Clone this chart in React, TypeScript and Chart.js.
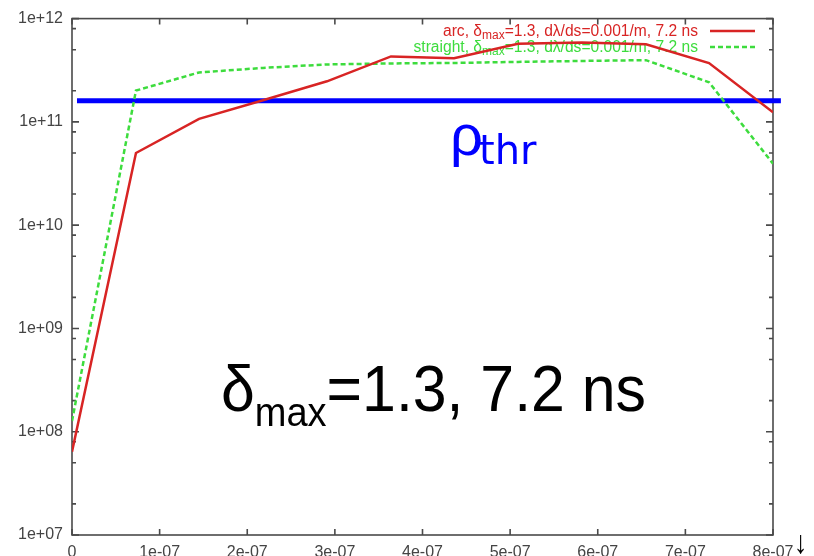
import React, { useEffect, useRef } from "react";
import { Chart, registerables } from "chart.js";

Chart.register(...registerables);

const timeValues = [0, 7.3e-8, 1.45e-7, 2.18e-7, 2.91e-7, 3.64e-7, 4.36e-7, 5.09e-7, 5.82e-7, 6.55e-7, 7.27e-7, 8.0e-7];
const arcValues = [6.4e7, 5.0e10, 1.07e11, 1.62e11, 2.47e11, 4.3e11, 4.14e11, 5.7e11, 5.87e11, 5.65e11, 3.71e11, 1.24e11];
const straightValues = [1.27e8, 2.01e11, 3.01e11, 3.33e11, 3.6e11, 3.68e11, 3.72e11, 3.81e11, 3.89e11, 3.96e11, 2.42e11, 3.94e10];
const thresholdX = [5.7e-9, 8.09e-7];
const thresholdValue = 1.6e11;

const xTickValues = [0, 1e-7, 2e-7, 3e-7, 4e-7, 5e-7, 6e-7, 7e-7, 8e-7];
const xTickLabels = ["0", "1e-07", "2e-07", "3e-07", "4e-07", "5e-07", "6e-07", "7e-07", "8e-07"];
const yTickValues = [1e7, 1e8, 1e9, 1e10, 1e11, 1e12];
const yTickLabels = ["1e+07", "1e+08", "1e+09", "1e+10", "1e+11", "1e+12"];
const yMinorFactors = [2, 5, 8];

const FONT = "'Liberation Sans', Arial, sans-serif";
const WIDE = "'DejaVu Sans', sans-serif";
const RED = "#d82424";
const GREEN = "#3ddc3d";
const BLUE = "#0000ff";

type Part = { text: string; size: number; dy: number; family?: string; weight?: string };

function drawRich(
  ctx: CanvasRenderingContext2D,
  parts: Part[],
  x: number,
  y: number,
  align: "left" | "right",
  color: string,
  scaleX = 1
) {
  ctx.save();
  ctx.fillStyle = color;
  ctx.textBaseline = "alphabetic";
  ctx.textAlign = "left";
  let total = 0;
  const fontOf = (p: Part) => `${p.weight ? p.weight + " " : ""}${p.size}px ${p.family || FONT}`;
  const widths = parts.map((p) => {
    ctx.font = fontOf(p);
    const w = ctx.measureText(p.text).width;
    total += w;
    return w;
  });
  const startX = align === "right" ? x - total * scaleX : x;
  ctx.translate(startX, y);
  ctx.scale(scaleX, 1);
  let cx = 0;
  parts.forEach((p, i) => {
    ctx.font = fontOf(p);
    ctx.fillText(p.text, cx, p.dy);
    cx += widths[i];
  });
  ctx.restore();
}

const framePlugin = {
  id: "framePlugin",
  beforeDatasetsDraw(chart: any) {
    const { ctx, chartArea } = chart;
    const xs = chart.scales.x;
    const ys = chart.scales.y;
    const { left, right, top, bottom } = chartArea;
    ctx.save();
    ctx.strokeStyle = "#4a4a4a";
    ctx.lineWidth = 1.6;
    ctx.strokeRect(left, top, right - left, bottom - top);
    ctx.beginPath();
    xTickValues.forEach((v) => {
      const px = xs.getPixelForValue(v);
      ctx.moveTo(px, bottom);
      ctx.lineTo(px, bottom - 6);
      ctx.moveTo(px, top);
      ctx.lineTo(px, top + 6);
    });
    yTickValues.forEach((v, i) => {
      const py = ys.getPixelForValue(v);
      ctx.moveTo(left, py);
      ctx.lineTo(left + 7, py);
      ctx.moveTo(right, py);
      ctx.lineTo(right - 7, py);
      if (i < yTickValues.length - 1) {
        yMinorFactors.forEach((f) => {
          const pm = ys.getPixelForValue(v * f);
          ctx.moveTo(left, pm);
          ctx.lineTo(left + 4, pm);
          ctx.moveTo(right, pm);
          ctx.lineTo(right - 4, pm);
        });
      }
    });
    ctx.stroke();
    ctx.restore();

    // legend
    const textRight = 698;
    drawRich(
      ctx,
      [
        { text: "arc, δ", size: 15.6, dy: 0 },
        { text: "max", size: 12, dy: 3 },
        { text: "=1.3, dλ/ds=0.001/m, 7.2 ns", size: 15.6, dy: 0 },
      ],
      textRight,
      36,
      "right",
      RED
    );
    drawRich(
      ctx,
      [
        { text: "straight, δ", size: 15.6, dy: 0 },
        { text: "max", size: 12, dy: 3 },
        { text: "=1.3, dλ/ds=0.001/m, 7.2 ns", size: 15.6, dy: 0 },
      ],
      textRight,
      52,
      "right",
      GREEN
    );
    ctx.save();
    ctx.lineWidth = 2.5;
    ctx.strokeStyle = RED;
    ctx.beginPath();
    ctx.moveTo(710, 31);
    ctx.lineTo(755, 31);
    ctx.stroke();
    ctx.strokeStyle = GREEN;
    ctx.setLineDash([5, 3]);
    ctx.beginPath();
    ctx.moveTo(710, 47);
    ctx.lineTo(755, 47);
    ctx.stroke();
    ctx.restore();
  },
  afterDraw(chart: any) {
    const { ctx } = chart;
    drawRich(ctx, [{ text: "ρ", size: 58, dy: 0 }], 450, 155, "left", BLUE);
    drawRich(ctx, [{ text: "thr", size: 40, dy: 0, family: WIDE }], 479, 164, "left", BLUE);
    drawRich(
      ctx,
      [
        { text: "δ", size: 64, dy: 0 },
        { text: "max", size: 40, dy: 15 },
        { text: "=1.3, 7.2 ns", size: 64, dy: 0 },
      ],
      646,
      411,
      "right",
      "#000000",
      0.95
    );
    drawRich(ctx, [{ text: "↓", size: 32, dy: 0, weight: "bold" }], 794, 553, "left", "#000000", 0.85);
  },
};

export default function App() {
  const canvasRef = useRef<HTMLCanvasElement | null>(null);

  useEffect(() => {
    document.body.style.margin = "0";
    const canvas = canvasRef.current;
    if (!canvas) return;
    const chart = new Chart(canvas, {
      type: "line",
      data: {
        datasets: [
          {
            label: "arc",
            data: timeValues.map((t, i) => ({ x: t, y: arcValues[i] })),
            borderColor: RED,
            borderWidth: 2.5,
            pointRadius: 0,
            fill: false,
            tension: 0,
          },
          {
            label: "straight",
            data: timeValues.map((t, i) => ({ x: t, y: straightValues[i] })),
            borderColor: GREEN,
            borderWidth: 2.5,
            borderDash: [5, 3],
            pointRadius: 0,
            fill: false,
            tension: 0,
          },
          {
            label: "threshold",
            data: thresholdX.map((t) => ({ x: t, y: thresholdValue })),
            borderColor: BLUE,
            borderWidth: 5,
            pointRadius: 0,
            fill: false,
            clip: false as any,
          },
        ],
      },
      options: {
        animation: false,
        responsive: false,
        maintainAspectRatio: false,
        layout: { padding: { top: 16, right: 41, left: 0, bottom: 0 } },
        plugins: {
          legend: { display: false },
          tooltip: { enabled: false },
        },
        scales: {
          x: {
            type: "linear",
            min: 0,
            max: 8e-7,
            grid: { display: false, drawTicks: false },
            border: { display: false },
            afterBuildTicks: (scale: any) => {
              scale.ticks = xTickValues.map((v) => ({ value: v }));
            },
            afterFit: (scale: any) => {
              scale.height = 21;
            },
            ticks: {
              autoSkip: false,
              maxRotation: 0,
              padding: 8,
              color: "#444444",
              font: { family: FONT, size: 16 },
              callback: (_v: any, i: number) => xTickLabels[i],
            },
          },
          y: {
            type: "logarithmic",
            min: 1e7,
            max: 1e12,
            grid: { display: false, drawTicks: false },
            border: { display: false },
            afterBuildTicks: (scale: any) => {
              scale.ticks = yTickValues.map((v) => ({ value: v }));
            },
            afterFit: (scale: any) => {
              scale.width = 72;
            },
            ticks: {
              autoSkip: false,
              padding: 9,
              color: "#444444",
              font: { family: FONT, size: 16 },
              callback: (_v: any, i: number) => yTickLabels[i],
            },
          },
        },
      },
      plugins: [framePlugin],
    });
    return () => chart.destroy();
  }, []);

  return (
    <div style={{ position: "relative", width: 814, height: 556, background: "#fff" }}>
      <canvas ref={canvasRef} width={814} height={556} style={{ display: "block", width: 814, height: 556 }} />
    </div>
  );
}
